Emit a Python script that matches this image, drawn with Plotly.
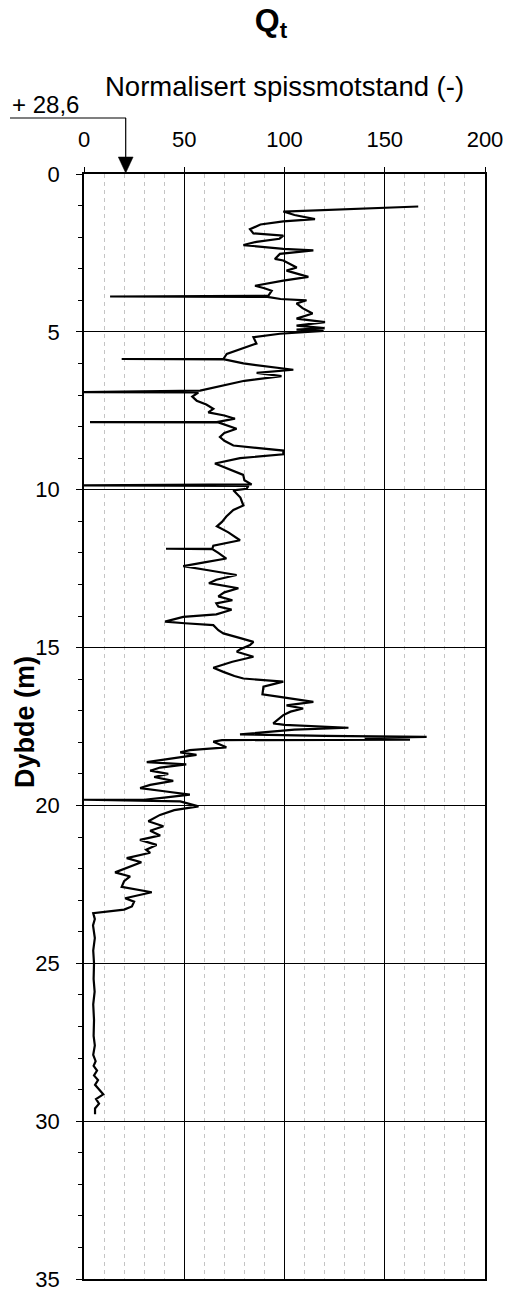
import plotly.graph_objects as go

# Normalisert spissmotstand Qt mot dybde (lest av figuren)
dybde = [
    1.03, 1.19, 1.30, 1.43, 1.50, 1.60, 1.75, 1.88, 1.95, 2.05, 2.15, 2.25, 2.37, 2.42,
    2.53, 2.69, 2.74, 2.96, 3.06, 3.26, 3.38, 3.54, 3.62, 3.70, 3.86, 3.88, 3.89, 3.96,
    4.00, 4.10, 4.25, 4.42, 4.58, 4.69, 4.80, 4.88, 4.93, 4.97, 5.06, 5.17, 5.37, 5.55,
    5.70, 5.86, 5.86, 5.87, 6.00, 6.14, 6.20, 6.30, 6.40, 6.55, 6.76, 6.86, 6.91, 6.92,
    7.05, 7.18, 7.30, 7.44, 7.55, 7.65, 7.75, 7.86, 7.86, 7.87, 8.07, 8.20, 8.33, 8.45,
    8.60, 8.70, 8.76, 8.88, 9.00, 9.17, 9.32, 9.45, 9.53, 9.70, 9.83, 9.86, 9.88, 9.97,
    10.02, 10.25, 10.50, 10.64, 10.85, 11.02, 11.16, 11.35, 11.60, 11.77, 11.87, 11.87,
    11.88, 12.00, 12.18, 12.30, 12.42, 12.55, 12.70, 12.85, 12.96, 13.12, 13.25, 13.38,
    13.50, 13.60, 13.70, 13.80, 13.95, 14.03, 14.18, 14.23, 14.29, 14.45, 14.55, 14.70,
    14.82, 14.92, 15.05, 15.13, 15.29, 15.45, 15.64, 15.77, 15.90, 15.98, 16.08, 16.24,
    16.48, 16.56, 16.72, 16.83, 16.93, 17.03, 17.14, 17.40, 17.45, 17.54, 17.60, 17.75,
    17.80, 17.83, 17.86, 17.92, 17.93, 17.98, 18.16, 18.25, 18.32, 18.40, 18.50, 18.63,
    18.70, 18.80, 18.90, 19.00, 19.10, 19.22, 19.35, 19.45, 19.55, 19.66, 19.75, 19.82,
    19.82, 19.84, 19.87, 20.03, 20.15, 20.30, 20.50, 20.66, 20.80, 20.95, 21.09, 21.25,
    21.40, 21.50, 21.67, 21.80, 21.95, 22.12, 22.25, 22.40, 22.58, 22.75, 22.94, 23.05,
    23.20, 23.30, 23.41, 23.60, 23.80, 24.20, 24.60, 25.00, 25.50, 25.90, 26.30, 26.80,
    27.30, 27.60, 27.90, 28.10, 28.25, 28.40, 28.55, 28.70, 28.85, 29.00, 29.15, 29.30,
    29.45, 29.60, 29.78,
]
qt = [
    166.7, 99.4, 105.0, 115.2, 99.4, 88.0, 82.8, 84.5, 99.4, 97.5, 86.0, 79.5, 99.4, 114.4,
    97.7, 95.2, 99.4, 106.1, 101.0, 111.9, 99.4, 85.3, 90.0, 93.6, 91.9, 13.0, 91.5, 98.0,
    111.0, 106.0, 109.0, 114.0, 106.0, 120.2, 106.0, 120.0, 106.0, 119.5, 97.7, 84.5, 86.0, 78.0,
    71.2, 69.5, 18.8, 70.0, 79.5, 97.7, 104.4, 86.1, 98.5, 80.0, 64.5, 57.9, 0.0, 57.0,
    54.0, 56.2, 61.0, 64.5, 62.0, 70.0, 75.3, 66.2, 3.0, 67.0, 76.1, 70.0, 67.8, 70.0,
    74.5, 90.0, 99.4, 99.4, 77.8, 65.3, 71.1, 76.0, 79.4, 80.0, 83.6, 0.0, 82.0, 81.1,
    74.5, 78.0, 79.5, 74.5, 71.0, 68.8, 66.3, 72.0, 77.8, 64.5, 64.0, 40.9,
    64.0, 67.0, 71.0, 60.0, 49.5, 62.0, 76.1, 66.0, 62.3, 77.0, 70.0, 67.0,
    74.0, 66.0, 67.0, 73.6, 66.0, 49.5, 40.4, 50.3, 64.5, 67.0, 69.5, 78.0,
    84.5, 82.8, 78.0, 76.2, 84.5, 74.0, 64.5, 69.5, 75.0, 79.5, 99.4, 89.5,
    89.0, 97.7, 114.4, 101.0, 109.3, 103.0, 99.4, 94.4, 100.0, 131.9, 105.0, 77.8,
    120.0, 170.9, 140.0, 162.6, 68.8, 64.5, 71.0, 52.8, 48.0, 56.1, 45.0, 31.3,
    51.0, 38.0, 33.0, 42.0, 35.0, 44.5, 33.0, 28.0, 40.0, 52.8, 40.0, 30.0,
    0.0, 30.0, 48.0, 57.1, 45.0, 37.9, 32.1, 39.6, 33.0, 38.0, 27.9, 36.2,
    31.0, 33.0, 21.3, 28.6, 22.0, 15.5, 23.0, 20.0, 18.8, 33.8, 20.5, 25.0,
    23.9, 20.0, 4.6, 5.4, 4.5, 5.4, 4.6, 5.0, 4.8, 5.3, 4.6, 5.0,
    4.8, 5.4, 4.6, 5.8, 4.8, 6.5, 5.0, 7.0, 5.5, 7.5, 9.6, 6.0,
    7.5, 5.5, 5.5,
]

x_ticks = [0, 50, 100, 150, 200]
y_ticks = [0, 5, 10, 15, 20, 25, 30, 35]
kote = "+ 28,6"
kote_x = 20.8  # pil for terrengkote

FONT = "Liberation Sans, Arial, sans-serif"
W, H = 510, 1295
T, B, L, R = 174, 16, 84, 25


def py(p):
    # piksel fra toppen -> paper y
    return (H - B - p) / (H - T - B)


def px(p):
    return (p - L) / (W - L - R)


fig = go.Figure()
fig.add_trace(go.Scatter(x=qt, y=dybde, mode="lines",
                         line=dict(color="black", width=2.2), showlegend=False))

fig.update_xaxes(
    side="top", range=[0, 200], tickvals=x_ticks, ticks="outside", ticklen=5,
    tickcolor="black", tickwidth=1, ticklabelstandoff=11, automargin=False,
    tickfont=dict(family=FONT, size=22, color="black"),
    showline=True, linecolor="black", linewidth=1.5, mirror=True,
    showgrid=True, gridcolor="black", gridwidth=1, zeroline=False,
    minor=dict(dtick=10, showgrid=True, gridcolor="#c4c4c4", gridwidth=1,
               griddash="4px,4px", ticks=""),
)
fig.update_yaxes(
    range=[35, 0], tickvals=y_ticks, ticks="outside", ticklen=6,
    tickcolor="black", tickwidth=1, ticklabelstandoff=12, automargin=False,
    tickfont=dict(family=FONT, size=22, color="black"),
    showline=True, linecolor="black", linewidth=1.5, mirror=True,
    showgrid=True, gridcolor="black", gridwidth=1, zeroline=False,
    minor=dict(dtick=1, ticks="outside", ticklen=4, tickcolor="black", showgrid=False),
)

# terrengkote-pil
fig.add_shape(type="line", xref="paper", yref="paper",
              x0=px(10), x1=px(126), y0=py(118), y1=py(118),
              line=dict(color="black", width=1.2))
fig.add_shape(type="line", xref="x", yref="paper",
              x0=kote_x, x1=kote_x, y0=py(118), y1=py(160),
              line=dict(color="black", width=1.2))
fig.add_shape(type="path", xref="x", yref="paper",
              path=f"M {kote_x - 3.7} {py(157)} L {kote_x + 3.7} {py(157)} L {kote_x} {py(173)} Z",
              fillcolor="black", line=dict(color="black", width=0.5))
fig.add_annotation(x=px(10), y=py(104), xref="paper", yref="paper", text=kote,
                   showarrow=False, xanchor="left", yanchor="middle",
                   font=dict(family=FONT, size=24, color="black"))

fig.add_annotation(x=0.5, y=py(86), xref="paper", yref="paper",
                   text="Normalisert spissmotstand (-)", showarrow=False,
                   xanchor="center", yanchor="middle",
                   font=dict(family=FONT, size=27.5, color="black"))
fig.add_annotation(x=px(25), y=py(722), xref="paper", yref="paper",
                   text="<b>Dybde (m)</b>", showarrow=False, textangle=-90,
                   xanchor="center", yanchor="middle",
                   font=dict(family=FONT, size=27, color="black"))

fig.update_layout(
    width=W, height=H,
    margin=dict(t=T, b=B, l=L, r=R),
    paper_bgcolor="white", plot_bgcolor="white",
    title=dict(text="<b>Q<sub>t</sub></b>", x=271 / W, xanchor="center",
               y=1 - 20 / H, yanchor="middle",
               font=dict(family=FONT, size=32, color="black")),
)

# siden skal ikke ha standardmarg rundt figuren
fig.write_html("out.html", config={"displayModeBar": False},
               post_script="document.body.style.margin='0';")
